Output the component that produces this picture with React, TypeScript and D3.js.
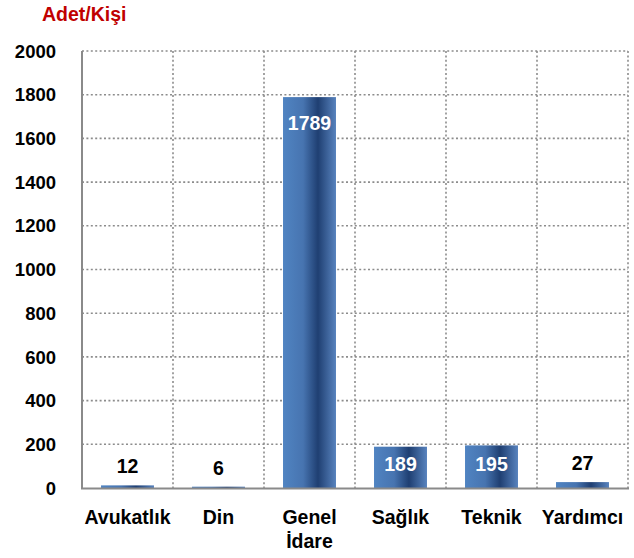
import React, { useEffect, useRef } from "react";
import * as d3 from "d3";

const categories = ["Avukatlık", "Din", "Genel İdare", "Sağlık", "Teknik", "Yardımcı"];
const values = [12, 6, 1789, 189, 195, 27];
const yTicks = [0, 200, 400, 600, 800, 1000, 1200, 1400, 1600, 1800, 2000];
const yTitle = "Adet/Kişi";

const App = () => {
  const ref = useRef<SVGSVGElement>(null);

  useEffect(() => {
    const width = 634;
    const height = 558;
    const margin = { top: 51, right: 6, bottom: 70, left: 82 };
    const font = "'Liberation Sans', Arial, sans-serif";

    const svg = d3.select(ref.current);
    svg.selectAll("*").remove();

    const defs = svg.append("defs");
    const grad = defs.append("linearGradient")
      .attr("id", "barGrad")
      .attr("x1", "0%").attr("x2", "100%")
      .attr("y1", "0%").attr("y2", "0%");
    [
      ["0%", "#5084c2"],
      ["38%", "#4774b0"],
      ["66%", "#1f3f72"],
      ["100%", "#5883be"],
    ].forEach(([o, c]) => grad.append("stop").attr("offset", o).attr("stop-color", c));

    const x = d3.scaleBand<string>()
      .domain(categories)
      .range([margin.left, width - margin.right])
      .paddingInner(0.418)
      .paddingOuter(0.209);

    const step = (width - margin.right - margin.left) / categories.length;

    const y = d3.scaleLinear()
      .domain([0, 2000])
      .range([height - margin.bottom, margin.top]);

    // gridlines
    const grid = svg.append("g")
      .attr("stroke", "#8c8c8c")
      .attr("stroke-width", 1.6)
      .attr("stroke-dasharray", "2,2.4");
    yTicks.filter(t => t > 0).forEach(t => {
      grid.append("line")
        .attr("x1", margin.left).attr("x2", width - margin.right)
        .attr("y1", y(t)).attr("y2", y(t));
    });
    categories.forEach((c, i) => {
      const gx = margin.left + step * (i + 1);
      grid.append("line")
        .attr("x1", gx).attr("x2", gx)
        .attr("y1", y(2000)).attr("y2", y(0));
    });

    // bars
    svg.append("g")
      .selectAll("rect")
      .data(values)
      .join("rect")
        .attr("x", (d, i) => x(categories[i])!)
        .attr("width", x.bandwidth())
        .attr("y", d => y(d))
        .attr("height", d => y(0) - y(d))
        .attr("fill", "url(#barGrad)");

    // axes lines
    svg.append("line")
      .attr("x1", margin.left).attr("x2", margin.left)
      .attr("y1", y(2000)).attr("y2", y(0))
      .attr("stroke", "#8a8a8a").attr("stroke-width", 2);
    svg.append("line")
      .attr("x1", margin.left - 1).attr("x2", width - margin.right + 1)
      .attr("y1", y(0) + 0.5).attr("y2", y(0) + 0.5)
      .attr("stroke", "#8a8a8a").attr("stroke-width", 2);

    // y tick labels
    svg.append("g")
      .selectAll("text")
      .data(yTicks)
      .join("text")
        .attr("x", 56)
        .attr("y", d => y(d))
        .attr("dy", "0.36em")
        .attr("text-anchor", "end")
        .attr("font-family", font)
        .attr("font-weight", "bold")
        .attr("font-size", 18.5)
        .attr("fill", "#000")
        .text(d => d);

    // category labels
    const cat = svg.append("g");
    categories.forEach(c => {
      const cx = x(c)! + x.bandwidth() / 2;
      const lines = c.split(" ");
      lines.forEach((ln, j) => {
        cat.append("text")
          .attr("x", cx)
          .attr("y", 524 + j * 24)
          .attr("text-anchor", "middle")
          .attr("font-family", font)
          .attr("font-weight", "bold")
          .attr("font-size", 19.5)
          .attr("fill", "#000")
          .text(ln);
      });
    });

    // value labels
    svg.append("g")
      .selectAll("text")
      .data(values)
      .join("text")
        .attr("x", (d, i) => x(categories[i])! + x.bandwidth() / 2)
        .attr("y", d => {
          const top = y(d);
          const bar = y(0) - top;
          if (bar < 30) return top - 12;
          return Math.min(top + 33, top + bar / 2 + 4);
        })
        .attr("text-anchor", "middle")
        .attr("font-family", font)
        .attr("font-weight", "bold")
        .attr("font-size", 19.5)
        .attr("fill", d => (y(0) - y(d) < 30 ? "#000" : "#fff"))
        .text(d => d);

    // title
    svg.append("text")
      .attr("x", 42)
      .attr("y", 21)
      .attr("font-family", font)
      .attr("font-weight", "bold")
      .attr("font-size", 19.5)
      .attr("fill", "#c00000")
      .text(yTitle);
  }, []);

  return (
    <svg
      ref={ref}
      width={634}
      height={558}
      style={{ position: "absolute", left: 0, top: 0, background: "#fff" }}
    />
  );
};

export default App;
